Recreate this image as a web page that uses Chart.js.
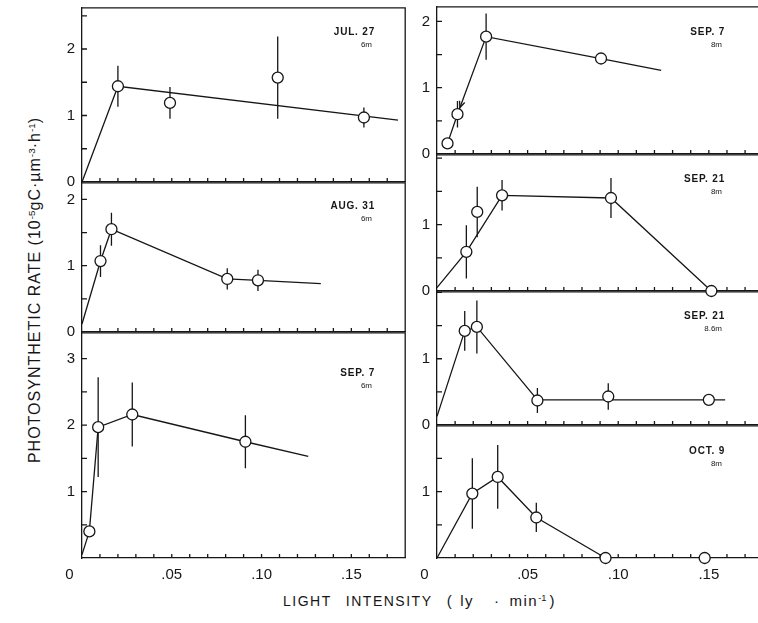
<!DOCTYPE html>
<html>
<head>
<meta charset="utf-8">
<script src="https://cdn.jsdelivr.net/npm/chart.js@4.4.1/dist/chart.umd.min.js"></script>
<style>
  html, body { margin: 0; padding: 0; background: #fff; }
  body { width: 758px; height: 623px; position: relative; overflow: hidden; color: #161616;
         font-family: 'Liberation Sans', Arial, sans-serif; }
  canvas { position: absolute; }
  .ytitle { position: absolute; left: -155px; top: 280px; width: 380px; height: 20px; line-height: 20px;
            text-align: center; font-size: 16px; letter-spacing: 1px; white-space: nowrap;
            transform: rotate(-90deg); }
  .xtitle { position: absolute; left: 283px; top: 592px; font-size: 14px; letter-spacing: 1.5px;
            word-spacing: 9px; white-space: nowrap; }
  .xtitle .unit { font-size: 15px; }
  sup { font-size: 0.62em; vertical-align: 0.55em; line-height: 0; letter-spacing: 0; }
</style>
</head>
<body>
<div class="ytitle">PHOTOSYNTHETIC RATE (10<sup>-5</sup>gC·µm<sup>-3</sup>·h<sup>-1</sup>)</div>
<div class="xtitle">LIGHT INTENSITY <span class="unit">(<span style="margin-left:7px">ly</span><span style="margin-left:20px">·</span><span style="margin-left:9px">min<sup>-1</sup></span><span style="margin-left:3px">)</span></span></div>
<script>
// sampling dates and depths shown in the corner of each panel
const panelDates = ['JUL. 27', 'AUG. 31', 'SEP. 7', 'SEP. 7', 'SEP. 21', 'SEP. 21', 'OCT. 9'];
const panelDepths = ['6m', '6m', '6m', '8m', '8m', '8.6m', '8m'];

// x-axis labels (light intensity, ly/min)
const xTickValues = [0, 0.05, 0.10, 0.15];
const xTickLabels = ['0', '.05', '.10', '.15'];

// measured means (circles) with +/- range, and the drawn curve for each day
const julX = [0.020, 0.049, 0.109, 0.157];
const julY = [1.44, 1.19, 1.57, 0.97];
const julErr = [0.31, 0.24, 0.62, 0.15];
const julLineX = [0, 0.020, 0.176];
const julLineY = [0, 1.44, 0.93];

const augX = [0.0103, 0.0164, 0.0809, 0.098];
const augY = [1.07, 1.55, 0.80, 0.78];
const augErr = [0.24, 0.25, 0.16, 0.16];
const augLineX = [0, 0.0103, 0.0164, 0.0809, 0.098, 0.133];
const augLineY = [0.12, 1.07, 1.55, 0.80, 0.78, 0.73];

const sep7aX = [0.0041, 0.009, 0.028, 0.091];
const sep7aY = [0.40, 1.97, 2.16, 1.75];
const sep7aErr = [0, 0.75, 0.48, 0.40];
const sep7aLineX = [0, 0.0041, 0.009, 0.028, 0.091, 0.126];
const sep7aLineY = [0.05, 0.40, 1.97, 2.16, 1.75, 1.53];

const sep7bX = [0.0058, 0.0113, 0.0271, 0.0905];
const sep7bY = [0.16, 0.60, 1.77, 1.44];
const sep7bErr = [0, 0.20, 0.35, 0];
const sep7bLineX = [0.0058, 0.0113, 0.0271, 0.0905, 0.1237];
const sep7bLineY = [0.16, 0.60, 1.77, 1.44, 1.26];

const sep21aX = [0.0162, 0.0222, 0.0359, 0.096, 0.1514];
const sep21aY = [0.59, 1.19, 1.44, 1.40, 0];
const sep21aErr = [0.40, 0.38, 0.23, 0.30, 0];
const sep21aLineX = [0, 0.0162, 0.0359, 0.096, 0.1514];
const sep21aLineY = [0.05, 0.59, 1.44, 1.40, 0];

const sep21bX = [0.0153, 0.022, 0.0554, 0.0945, 0.150];
const sep21bY = [1.42, 1.48, 0.37, 0.43, 0.38];
const sep21bErr = [0.30, 0.40, 0.19, 0.20, 0];
const sep21bLineX = [0, 0.0153, 0.022, 0.0554, 0.159];
const sep21bLineY = [0.13, 1.42, 1.48, 0.38, 0.38];

const octX = [0.0195, 0.0335, 0.0548, 0.093, 0.1477];
const octY = [0.97, 1.22, 0.61, 0, 0];
const octErr = [0.53, 0.48, 0.22, 0, 0];
const octLineX = [0, 0.0195, 0.0335, 0.0548, 0.093];
const octLineY = [0, 0.97, 1.22, 0.61, 0];

const INK = '#161616';
const AXIS_W = 44, PAD_T = 6, PAD_R = 4;

// box = plot area [left, top, right, bottom] on the page
const panels = [
  { x: julX, y: julY, err: julErr, lx: julLineX, ly: julLineY, box: [82, 7, 408, 182], yMax: 2.62, tag: [293, 19], z: 9 },
  { x: augX, y: augY, err: augErr, lx: augLineX, ly: augLineY, box: [82, 182, 408, 332], yMax: 2.25, tag: [293, 18], z: 8 },
  { x: sep7aX, y: sep7aY, err: sep7aErr, lx: sep7aLineX, ly: sep7aLineY, box: [82, 332, 408, 558], yMax: 3.39, tag: [293, 35], z: 7, bottom: true },
  { x: sep7bX, y: sep7bY, err: sep7bErr, lx: sep7bLineX, ly: sep7bLineY, box: [437, 6, 766, 154], yMax: 2.22, tag: [288, 20], z: 9, arrowAt: 1 },
  { x: sep21aX, y: sep21aY, err: sep21aErr, lx: sep21aLineX, ly: sep21aLineY, box: [437, 154, 766, 291], yMax: 2.05, tag: [288, 19], z: 8 },
  { x: sep21bX, y: sep21bY, err: sep21bErr, lx: sep21bLineX, ly: sep21bLineY, box: [437, 291, 766, 425], yMax: 2.01, tag: [288, 19], z: 7 },
  { x: octX, y: octY, err: octErr, lx: octLineX, ly: octLineY, box: [437, 425, 766, 558], yMax: 1.99, tag: [288, 20], z: 6, bottom: true }
];

// frame, inward ticks, range bars under the data; arrow and date tag on top
const panelDecor = {
  id: 'panelDecor',
  beforeDatasetsDraw(chart, args, opts) {
    const { ctx, chartArea: a, scales: { x, y } } = chart;
    ctx.save();
    ctx.strokeStyle = INK;
    ctx.lineWidth = 1.3;
    ctx.beginPath();
    ctx.moveTo(a.left, a.top); ctx.lineTo(a.right, a.top); ctx.lineTo(a.right, a.bottom);
    x.ticks.forEach(t => {
      if (t.value <= 0) return;
      const px = x.getPixelForValue(t.value);
      ctx.moveTo(px, a.bottom); ctx.lineTo(px, a.bottom - 4);
    });
    y.ticks.forEach(t => {
      if (t.value <= 0) return;
      const py = y.getPixelForValue(t.value);
      ctx.moveTo(a.left, py); ctx.lineTo(a.left + 5, py);
    });
    ctx.stroke();

    const meta = chart.getDatasetMeta(0);
    const ds = chart.data.datasets[0];
    ctx.beginPath();
    ds.data.forEach((d, i) => {
      const e = ds.errors[i];
      if (!e) return;
      const px = meta.data[i].x;
      ctx.moveTo(px, y.getPixelForValue(d.y + e));
      ctx.lineTo(px, y.getPixelForValue(d.y - e));
    });
    ctx.stroke();
    ctx.restore();
  },
  afterDatasetsDraw(chart, args, opts) {
    const { ctx, chartArea: a } = chart;
    ctx.save();
    ctx.fillStyle = INK;
    ctx.strokeStyle = INK;
    if (opts.arrowAt != null) {
      const pts = chart.getDatasetMeta(1).data;
      const tip = pts[opts.arrowAt], from = pts[opts.arrowAt + 1];
      const dx = tip.x - from.x, dy = tip.y - from.y, len = Math.hypot(dx, dy);
      const ux = dx / len, uy = dy / len;
      const tx = tip.x - ux * 7, ty = tip.y - uy * 7;
      const ang = Math.atan2(uy, ux);
      ctx.lineWidth = 1.3;
      ctx.beginPath();
      ctx.moveTo(tx - 7 * Math.cos(ang - 0.4), ty - 7 * Math.sin(ang - 0.4));
      ctx.lineTo(tx, ty);
      ctx.lineTo(tx - 7 * Math.cos(ang + 0.4), ty - 7 * Math.sin(ang + 0.4));
      ctx.stroke();
    }
    ctx.textAlign = 'right';
    ctx.textBaseline = 'top';
    ctx.letterSpacing = '0.8px';
    ctx.font = 'bold 10px "Liberation Sans", Arial, sans-serif';
    ctx.fillText(opts.date, a.left + opts.tag[0], a.top + opts.tag[1]);
    ctx.letterSpacing = '0px';
    ctx.font = '8px "Liberation Sans", Arial, sans-serif';
    ctx.fillText(opts.depth, a.left + opts.tag[0] - 3, a.top + opts.tag[1] + 14);
    ctx.restore();
  }
};

function xLabel(value, bottom) {
  if (!bottom) return '';
  const i = xTickValues.findIndex(t => Math.abs(t - value) < 1e-9);
  if (i < 0) return '';
  // the corner zero sits a little left of the axis
  return i === 0 ? xTickLabels[0] + '\u2007\u2007\u2007' : xTickLabels[i];
}

// whole numbers only; the corner zero belongs to the x axis and a value
// right at the top edge would collide with the panel above
function yLabel(value, p) {
  if (!Number.isInteger(value)) return '';
  if (p.bottom && value === 0) return '';
  if (value > p.yMax - 0.1) return '';
  return String(value);
}

panels.forEach((p, i) => {
  const [l, t, r, b] = p.box;
  const xh = p.bottom ? 30 : 8;
  const canvas = document.createElement('canvas');
  canvas.width = (r - l) + AXIS_W + PAD_R;
  canvas.height = (b - t) + PAD_T + xh;
  canvas.style.left = (l - AXIS_W) + 'px';
  canvas.style.top = (t - PAD_T) + 'px';
  canvas.style.zIndex = p.z;
  document.body.appendChild(canvas);

  new Chart(canvas, {
    type: 'line',
    data: {
      datasets: [
        {
          data: p.x.map((v, k) => ({ x: v, y: p.y[k] })),
          errors: p.err,
          showLine: false,
          clip: false,
          pointRadius: 5.5,
          pointBackgroundColor: '#fff',
          pointBorderColor: INK,
          pointBorderWidth: 1.3,
          order: 0
        },
        {
          data: p.lx.map((v, k) => ({ x: v, y: p.ly[k] })),
          borderColor: INK,
          borderWidth: 1.3,
          pointRadius: 0,
          tension: 0,
          clip: false,
          order: 1
        }
      ]
    },
    options: {
      responsive: false,
      animation: false,
      devicePixelRatio: 1,
      events: [],
      layout: { padding: { top: PAD_T, right: PAD_R, left: 0, bottom: 0 } },
      plugins: {
        legend: { display: false },
        tooltip: { enabled: false },
        panelDecor: { date: panelDates[i], depth: panelDepths[i], tag: p.tag, arrowAt: p.arrowAt }
      },
      scales: {
        x: {
          type: 'linear',
          min: 0,
          max: 0.18,
          grid: { display: false, drawTicks: false },
          border: { color: INK, width: 1.3 },
          ticks: {
            display: !!p.bottom,
            stepSize: 0.01,
            includeBounds: false,
            autoSkip: false,
            maxRotation: 0,
            padding: 8,
            color: INK,
            font: { family: '"Liberation Sans", Arial, sans-serif', size: 15 },
            callback: v => xLabel(v, p.bottom)
          },
          afterFit: s => { s.height = xh; s.paddingLeft = 0; s.paddingRight = 0; }
        },
        y: {
          type: 'linear',
          min: 0,
          max: p.yMax,
          grid: { display: false, drawTicks: false },
          border: { color: INK, width: 1.3 },
          ticks: {
            stepSize: 0.5,
            includeBounds: false,
            autoSkip: false,
            padding: 7,
            color: INK,
            font: { family: '"Liberation Sans", Arial, sans-serif', size: 15 },
            callback: v => yLabel(v, p)
          },
          afterFit: s => { s.width = AXIS_W; s.paddingTop = 0; s.paddingBottom = 0; }
        }
      }
    },
    plugins: [panelDecor]
  });
});
</script>
</body>
</html>
